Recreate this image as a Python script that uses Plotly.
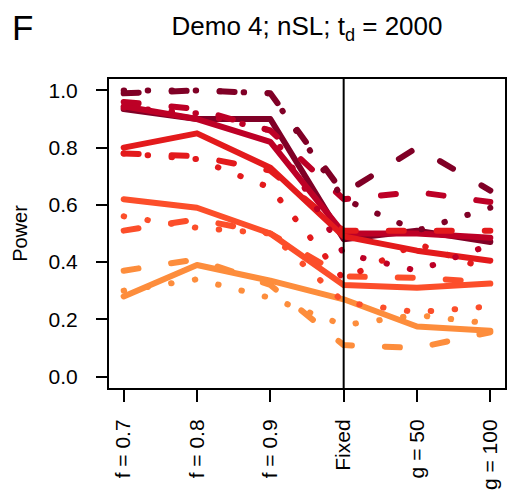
import plotly.graph_objects as go

categories = ["f = 0.7", "f = 0.8", "f = 0.9", "Fixed", "g = 50", "g = 100"]
y_ticks = [0.0, 0.2, 0.4, 0.6, 0.8, 1.0]

# solid lines
s1_solid = [0.935, 0.90, 0.90, 0.48, 0.51, 0.47]
s2_solid = [0.945, 0.90, 0.82, 0.50, 0.50, 0.485]
s3_solid = [0.80, 0.85, 0.73, 0.49, 0.44, 0.405]
s4_solid = [0.62, 0.59, 0.50, 0.32, 0.31, 0.325]
s5_solid = [0.28, 0.39, 0.335, 0.27, 0.175, 0.16]
# dashed lines
s1_dashed = [0.99, 1.0, 0.99, 0.64, 0.80, 0.65]
s2_dashed = [0.96, 0.935, 0.86, 0.62, 0.645, 0.61]
s3_dashed = [0.78, 0.77, 0.72, 0.51, 0.51, 0.51]
s4_dashed = [0.51, 0.55, 0.50, 0.35, 0.345, 0.33]
s5_dashed = [0.37, 0.41, 0.32, 0.11, 0.10, 0.155]
# dotted lines
s1_dotted = [1.0, 1.0, 0.99, 0.62, 0.51, 0.59]
s2_dotted = [0.94, 0.92, 0.86, 0.43, 0.37, 0.46]
s3_dotted = [0.78, 0.76, 0.66, 0.34, 0.465, 0.37]
s4_dotted = [0.56, 0.52, 0.50, 0.26, 0.225, 0.245]
s5_dotted = [0.30, 0.34, 0.275, 0.18, 0.215, 0.185]

colors = ["#800026", "#bd0026", "#e31a1c", "#fc4e2a", "#fd8d3c"]
dash_solid = "solid"
dash_dashed = "15px,33px"
dash_dotted = "0.5px,23.5px"

groups = [
    ([s1_solid, s2_solid, s3_solid, s4_solid, s5_solid], dash_solid),
    ([s1_dashed, s2_dashed, s3_dashed, s4_dashed, s5_dashed], dash_dashed),
    ([s1_dotted, s2_dotted, s3_dotted, s4_dotted, s5_dotted], dash_dotted),
]

fig = go.Figure()
for series_list, dash in groups:
    for vals, col in zip(series_list, colors):
        fig.add_trace(go.Scatter(
            x=categories, y=vals, mode="lines",
            line=dict(color=col, width=6, dash=dash),
            hoverinfo="skip", showlegend=False,
        ))

fig.add_shape(type="line", xref="x", yref="paper", x0=3, x1=3, y0=0, y1=1,
              line=dict(color="black", width=2))

font_family = "Liberation Sans, Arial, Helvetica, sans-serif"
fig.update_layout(
    width=509, height=492,
    margin=dict(l=109, r=2, t=79, b=101),
    plot_bgcolor="white", paper_bgcolor="white",
    showlegend=False,
    font=dict(family=font_family, color="black", size=20),
    title=dict(text="Demo 4; nSL; t<sub>d</sub> = 2000", x=0.5, xref="paper",
               xanchor="center", y=1 - 26 / 492, yanchor="middle",
               font=dict(size=26, family=font_family, color="black")),
    annotations=[dict(text="F", xref="paper", yref="paper",
                      x=(9 - 109) / 398, y=(391 - 5) / 312,
                      xanchor="left", yanchor="top", showarrow=False,
                      font=dict(size=35, family=font_family, color="black"))],
)
fig.update_xaxes(
    type="category", range=[-0.2, 5.2],
    showline=True, mirror=True, linecolor="black", linewidth=2,
    ticks="outside", ticklen=12, tickwidth=2, tickcolor="black",
    tickangle=-90, tickfont=dict(size=21), ticklabelstandoff=9,
    showgrid=False, zeroline=False,
)
fig.update_yaxes(
    range=[-0.04, 1.04], tickmode="array", tickvals=y_ticks,
    ticktext=[f"{v:.1f}" for v in y_ticks],
    showline=True, mirror=True, linecolor="black", linewidth=2,
    ticks="outside", ticklen=11, tickwidth=2, tickcolor="black",
    tickfont=dict(size=21), ticklabelstandoff=14,
    showgrid=False, zeroline=False,
    title=dict(text="Power", font=dict(size=20), standoff=16),
)

post = """
var gd = document.getElementById('{plot_id}');
gd.querySelectorAll('.scatterlayer path').forEach(function(p){
  p.style.strokeLinecap = 'round';
  p.style.strokeLinejoin = 'round';
});
"""
fig.write_html("out.html", post_script=post)
